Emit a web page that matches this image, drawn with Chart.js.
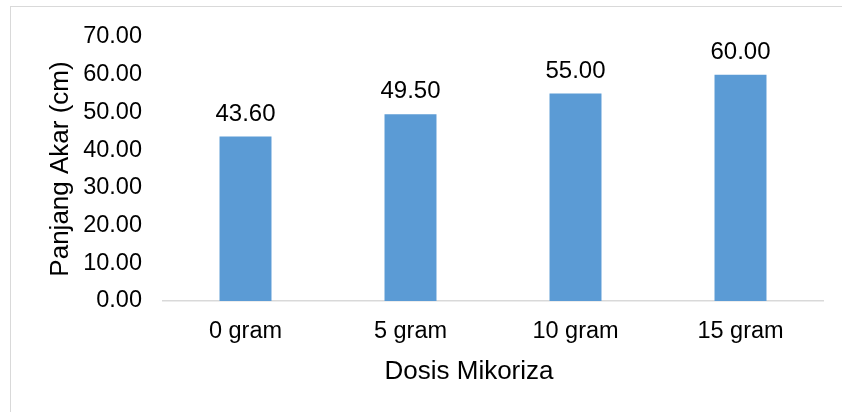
<!DOCTYPE html>
<html>
<head>
<meta charset="utf-8">
<script src="https://cdn.jsdelivr.net/npm/chart.js@4"></script>
<style>
  html, body { margin: 0; padding: 0; background: #fff; overflow: hidden; }
  #wrap { position: relative; width: 842px; height: 412px; overflow: hidden; }
  #frame { position: absolute; left: 10px; top: 6px; width: 900px; height: 500px;
           border: 1.5px solid #d9d9d9; box-sizing: border-box; }
  canvas { position: absolute; left: 0; top: 0; }
</style>
</head>
<body>
<div id="wrap">
  <div id="frame"></div>
  <canvas id="c" width="842" height="412"></canvas>
</div>
<script>
// Root length for each mycorrhiza dose
const categories = ['0 gram', '5 gram', '10 gram', '15 gram'];
const panjangAkar = [43.60, 49.50, 55.00, 60.00];
const yMin = 0;
const yMax = 70;
const yStep = 10;
const xTitle = 'Dosis Mikoriza';
const yTitle = 'Panjang Akar (cm)';

const FONT = '"Liberation Sans", Arial, sans-serif';
const TEXT = '#000000';

// Value labels above each bar
const valueLabels = {
  id: 'valueLabels',
  afterDatasetsDraw(chart) {
    const ctx = chart.ctx;
    const meta = chart.getDatasetMeta(0);
    ctx.save();
    ctx.font = '24px ' + FONT;
    ctx.fillStyle = TEXT;
    ctx.textAlign = 'center';
    ctx.textBaseline = 'alphabetic';
    meta.data.forEach((bar, i) => {
      const v = chart.data.datasets[0].data[i];
      ctx.fillText(v.toFixed(2), bar.x, bar.y - 16);
    });
    ctx.restore();
  }
};

// Axis titles
const axisTitles = {
  id: 'axisTitles',
  afterDraw(chart) {
    const ctx = chart.ctx;
    const area = chart.chartArea;
    ctx.save();
    ctx.font = '26px ' + FONT;
    ctx.fillStyle = TEXT;
    ctx.textAlign = 'center';
    ctx.textBaseline = 'middle';
    ctx.fillText(xTitle, 469, 372);
    ctx.translate(61, (area.top + area.bottom) / 2);
    ctx.rotate(-Math.PI / 2);
    ctx.fillText(yTitle, 0, 0);
    ctx.restore();
  }
};

new Chart(document.getElementById('c'), {
  type: 'bar',
  data: {
    labels: categories,
    datasets: [{
      data: panjangAkar,
      backgroundColor: '#5b9bd5',
      borderWidth: 0,
      categoryPercentage: 1,
      barPercentage: 0.315
    }]
  },
  options: {
    responsive: false,
    animation: false,
    devicePixelRatio: 1,
    layout: { padding: { top: 37, right: 19, bottom: 0, left: 0 } },
    plugins: { legend: { display: false }, tooltip: { enabled: false } },
    scales: {
      x: {
        grid: { display: false, drawTicks: false },
        border: { display: true, color: '#d9d9d9', width: 1.5 },
        ticks: { color: TEXT, font: { family: FONT, size: 23.5 }, padding: 16, maxRotation: 0 },
        afterFit(scale) { scale.height = 111; }
      },
      y: {
        min: yMin,
        max: yMax,
        grid: { display: false, drawTicks: false },
        border: { display: false },
        ticks: {
          stepSize: yStep,
          color: TEXT,
          font: { family: FONT, size: 23.5 },
          padding: 21,
          callback: v => Number(v).toFixed(2)
        },
        afterFit(scale) { scale.width = 163; }
      }
    }
  },
  plugins: [valueLabels, axisTitles]
});
</script>
</body>
</html>
